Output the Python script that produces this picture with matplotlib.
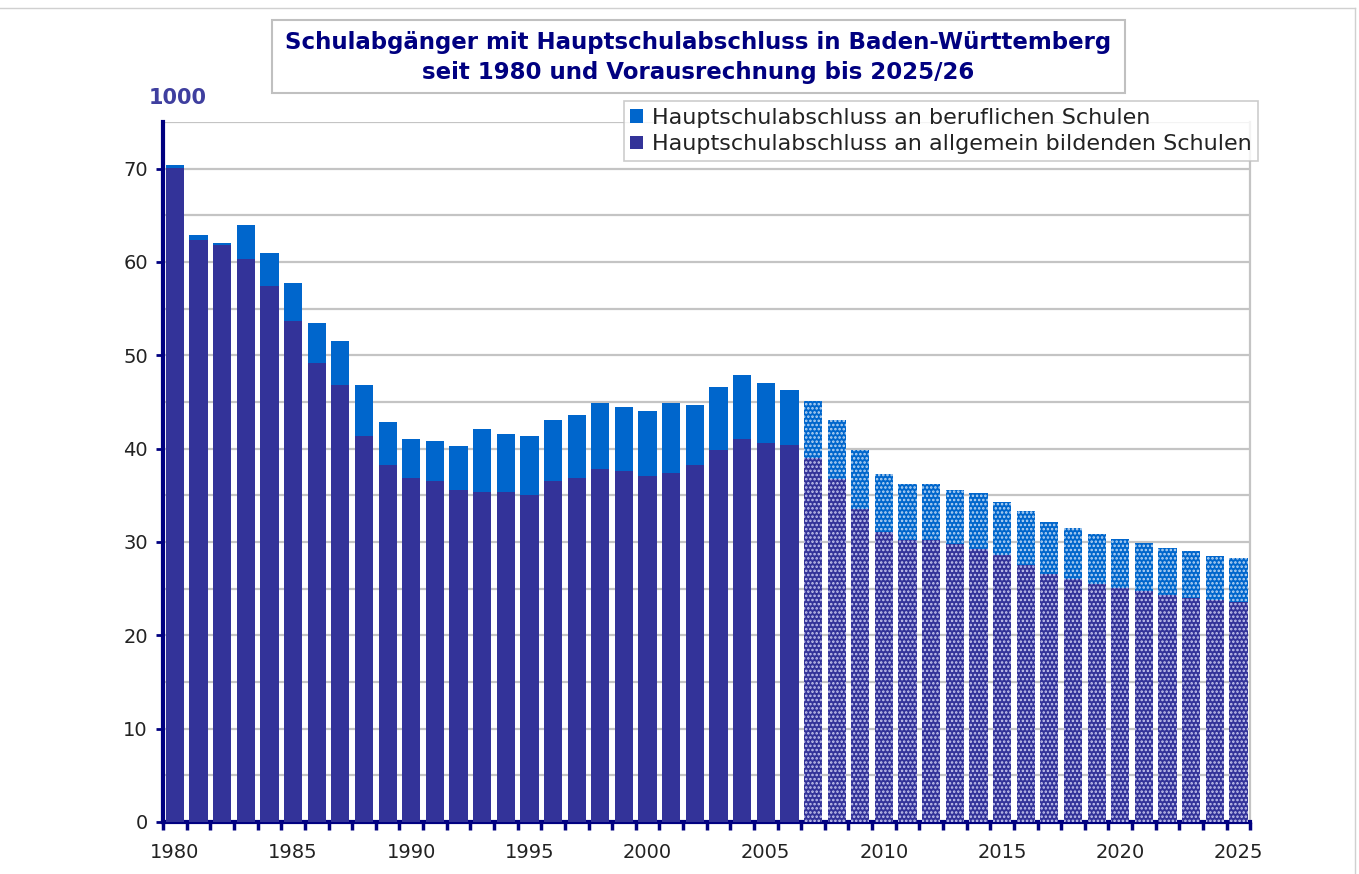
import numpy as np
import matplotlib
matplotlib.use("Agg")
import matplotlib.pyplot as plt
from matplotlib.patches import Patch, Rectangle
from matplotlib.lines import Line2D

# Schulabgaenger mit Hauptschulabschluss (in 1000), 1980-2025
years = np.arange(1980, 2026)
total = [70.4, 62.9, 62.0, 64.0, 61.0, 57.7, 53.5, 51.5, 46.8, 42.9,
         41.0, 40.8, 40.3, 42.1, 41.6, 41.4, 43.1, 43.6, 44.9, 44.5,
         44.0, 44.9, 44.7, 46.6, 47.9, 47.0, 46.3,
         45.1, 43.1, 39.9, 37.3, 36.2, 36.2, 35.6, 35.2, 34.3, 33.3,
         32.1, 31.5, 30.9, 30.3, 29.9, 29.4, 29.0, 28.5, 28.3]
allgemein = [70.1, 62.4, 61.8, 60.3, 57.4, 53.7, 49.2, 46.8, 41.4, 38.2,
             36.9, 36.5, 35.6, 35.4, 35.4, 35.0, 36.5, 36.9, 37.8, 37.6,
             37.1, 37.4, 38.2, 39.9, 41.0, 40.6, 40.4,
             39.0, 36.7, 33.5, 31.1, 30.2, 30.2, 29.8, 29.2, 28.6, 27.5,
             26.6, 26.0, 25.5, 25.1, 24.7, 24.3, 24.0, 23.8, 23.6]
beruflich = [t - a for t, a in zip(total, allgemein)]
last_actual = 2006  # ab 2007 Vorausrechnung

c_allg = "#333399"
c_beruf = "#0066cc"
navy = "#000080"

plt.rcParams["font.family"] = "DejaVu Sans"
plt.rcParams["hatch.linewidth"] = 1.2

fig = plt.figure(figsize=(13.59, 8.74), dpi=100)
ax = fig.add_axes([0.120, 0.0595, 0.800, 0.801])

actual = years <= last_actual
proj = ~actual
allg = np.array(allgemein)
beru = np.array(beruflich)
w = 0.77

ax.bar(years[actual], allg[actual], width=w, color=c_allg, zorder=3)
ax.bar(years[actual], beru[actual], bottom=allg[actual], width=w, color=c_beruf, zorder=3)
ax.bar(years[proj], allg[proj], width=w, color=c_allg, edgecolor="#c8c8f0",
       linewidth=0, hatch="....", zorder=3)
ax.bar(years[proj], beru[proj], bottom=allg[proj], width=w, color=c_beruf,
       edgecolor="#bcd8f4", linewidth=0, hatch="....", zorder=3)

ax.set_xlim(1979.5, 2025.5)
ax.set_ylim(0, 75)

ax.set_yticks(np.arange(0, 80, 10))
ax.set_yticks(np.arange(5, 80, 5), minor=True)
ax.grid(axis="y", which="both", color="#c4c4c4", linewidth=1.6, zorder=0)
ax.tick_params(axis="y", which="major", length=5, width=2, color=navy,
               labelsize=14, labelcolor="#222222", pad=6)
ax.tick_params(axis="y", which="minor", length=0)

ax.set_xticks(np.arange(1980, 2026, 5))
ax.set_xticks(np.arange(1979.5, 2026, 1), minor=True)
ax.tick_params(axis="x", which="major", length=0, labelsize=14,
               labelcolor="#222222", pad=15)
ax.tick_params(axis="x", which="minor", length=6, width=2.5, color=navy)

ax.spines["left"].set_color(navy)
ax.spines["left"].set_linewidth(3)
ax.spines["bottom"].set_color(navy)
ax.spines["bottom"].set_linewidth(3)
ax.spines["right"].set_color("#c4c4c4")
ax.spines["right"].set_linewidth(1.6)
ax.spines["top"].set_visible(False)

fig.text(0.131, 0.888, "1000", color="#3f3f9f", fontsize=15,
         fontweight="bold", ha="center", va="center")

# Titel im Rahmen
fig.patches.append(Rectangle((0.200, 0.8936), 0.628, 0.0834, transform=fig.transFigure,
                             facecolor="white", edgecolor="#c0c0c0", linewidth=1.5))
fig.text(0.514, 0.951, "Schulabgänger mit Hauptschulabschluss in Baden-Württemberg",
         color=navy, fontsize=16.5, fontweight="bold", ha="center", va="center")
fig.text(0.514, 0.917, "seit 1980 und Vorausrechnung bis 2025/26",
         color=navy, fontsize=16.5, fontweight="bold", ha="center", va="center")

handles = [Patch(facecolor=c_beruf), Patch(facecolor=c_allg)]
labels = ["Hauptschulabschluss an beruflichen Schulen",
          "Hauptschulabschluss an allgemein bildenden Schulen"]
leg = fig.legend(handles, labels, loc="upper right", bbox_to_anchor=(0.9257, 0.8844),
                 fontsize=16, frameon=True, fancybox=False, edgecolor="#c0c0c0",
                 handlelength=0.55, handleheight=0.55, handletextpad=0.4,
                 labelspacing=0.3, borderpad=0.3, borderaxespad=0)
leg.get_frame().set_linewidth(1.2)
for t in leg.get_texts():
    t.set_color("#222222")

# duenner Aussenrahmen oben und rechts
fig.add_artist(Line2D([0, 0.997], [0.991, 0.991], transform=fig.transFigure,
                      color="#d0d0d0", linewidth=1))
fig.add_artist(Line2D([0.997, 0.997], [0, 0.991], transform=fig.transFigure,
                      color="#d0d0d0", linewidth=1))

fig.savefig("out.png", dpi=100, facecolor="white")
